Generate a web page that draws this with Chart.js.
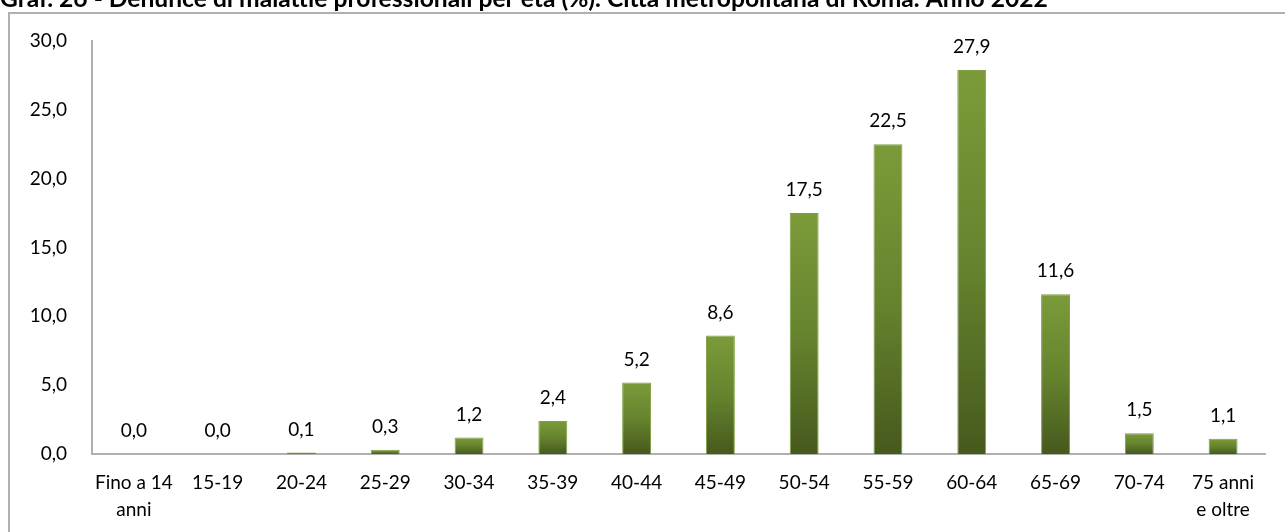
<!DOCTYPE html>
<html>
<head>
<meta charset="utf-8">
<script src="https://cdn.jsdelivr.net/npm/chart.js@4"></script>
<style>
  html, body { margin: 0; padding: 0; background: #fff; }
  #wrap { width: 1285px; height: 532px; position: relative; }
</style>
</head>
<body>
<div id="wrap"><canvas id="ageChart" width="1285" height="532"></canvas></div>
<script>
// ===============================
// DATA
// ===============================
const TITLE = 'Graf. 26 - Denunce di malattie professionali per età (%). Città metropolitana di Roma. Anno 2022';
const categories = [
    ['Fino a 14', 'anni'], '15-19', '20-24', '25-29', '30-34', '35-39', '40-44',
    '45-49', '50-54', '55-59', '60-64', '65-69', '70-74', ['75 anni', 'e oltre']
];
const shares = [0.0, 0.0, 0.1, 0.3, 1.2, 2.4, 5.2, 8.6, 17.5, 22.5, 27.9, 11.6, 1.5, 1.1];
const yTicks = [0, 5, 10, 15, 20, 25, 30];

const FONT = 'Lato, "Open Sans", sans-serif';
const FONT_SIZE = 19;
const fmt = v => v.toFixed(1).replace('.', ',');

// per-bar vertical gradient (light green top -> dark olive bottom)
function barFill(context) {
    const chart = context.chart;
    if (!chart.chartArea || context.dataIndex === undefined) return '#6b8a32';
    const y = chart.scales.y;
    const top = y.getPixelForValue(shares[context.dataIndex]);
    const base = y.getPixelForValue(0);
    const g = chart.ctx.createLinearGradient(0, top, 0, Math.max(base, top + 1));
    g.addColorStop(0, '#7b9b3a');
    g.addColorStop(0.5, '#66842e');
    g.addColorStop(1, '#46591d');
    return g;
}

// frame + title
const framePlugin = {
    id: 'frame',
    beforeDraw(chart) {
        const c = chart.ctx;
        c.save();
        c.strokeStyle = '#b0b0b0';
        c.lineWidth = 2;
        c.strokeRect(9, 13, 1400, 600);
        let size = 18;
        c.font = `bold ${size}px ${FONT}`;
        size = size * 1048 / c.measureText(TITLE).width;
        c.font = `bold ${size}px ${FONT}`;
        c.fillStyle = '#000';
        c.textBaseline = 'alphabetic';
        c.textAlign = 'left';
        c.fillText(TITLE, 0, 7);
        c.restore();
    }
};

// value labels above bars
const valueLabels = {
    id: 'valueLabels',
    afterDatasetsDraw(chart) {
        const c = chart.ctx;
        const meta = chart.getDatasetMeta(0);
        c.save();
        c.font = `${FONT_SIZE}px ${FONT}`;
        c.fillStyle = '#000';
        c.textAlign = 'center';
        c.textBaseline = 'middle';
        meta.data.forEach((bar, i) => {
            c.fillText(fmt(shares[i]), bar.x, bar.y - 23);
        });
        c.restore();
    }
};

new Chart(document.getElementById('ageChart'), {
    type: 'bar',
    data: {
        labels: categories,
        datasets: [{
            data: shares,
            backgroundColor: barFill,
            borderColor: '#7f9f42',
            borderWidth: 1,
            borderSkipped: 'bottom',
            barPercentage: 0.345,
            categoryPercentage: 1
        }]
    },
    options: {
        responsive: false,
        animation: false,
        layout: { padding: { top: 41, right: 20, left: 0, bottom: 0 } },
        plugins: { legend: { display: false }, tooltip: { enabled: false }, title: { display: false } },
        scales: {
            x: {
                grid: { display: false, drawTicks: false },
                border: { color: '#b0b0b0', width: 2 },
                ticks: {
                    color: '#000', padding: 16, maxRotation: 0, autoSkip: false,
                    font: { family: FONT, size: FONT_SIZE, lineHeight: 1.4 }
                },
                afterFit(scale) { scale.height = 78; }
            },
            y: {
                min: 0, max: 30,
                grid: { display: false, drawTicks: false },
                border: { color: '#b0b0b0', width: 2 },
                afterBuildTicks(scale) { scale.ticks = yTicks.map(v => ({ value: v })); },
                ticks: {
                    color: '#000', padding: 25,
                    font: { family: FONT, size: FONT_SIZE },
                    callback: v => fmt(v)
                },
                afterFit(scale) { scale.width = 92; }
            }
        }
    },
    plugins: [framePlugin, valueLabels]
});
</script>
</body>
</html>
